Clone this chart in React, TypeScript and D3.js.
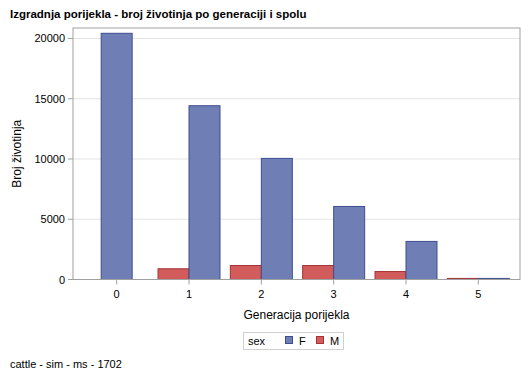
import React from "react";
import * as d3 from "d3";

const categories = ["0", "1", "2", "3", "4", "5"];
const seriesKeys = ["M", "F"];
const valuesF = [20430, 14420, 10050, 6060, 3160, 90];
const valuesM: (number | null)[] = [null, 890, 1160, 1160, 660, 90];
const yTicks = [0, 5000, 10000, 15000, 20000];
const legendKeys = ["F", "M"];

const colors: Record<string, { fill: string; stroke: string }> = {
  F: { fill: "#6F7EB4", stroke: "#3D4E8F" },
  M: { fill: "#D25B5B", stroke: "#A33434" },
};

const W = 529;
const H = 378;
const plot = { left: 73, right: 520, top: 28, bottom: 279.5 };
const font = "Arial, 'Liberation Sans', sans-serif";

export default function App() {
  const x = d3.scaleBand<string>().domain(categories).range([80.5, 514.5]).padding(0);
  const y = d3.scaleLinear().domain([0, 20870]).range([plot.bottom, plot.top]);
  const barW = 31;

  const bars: { key: string; cat: string; x0: number; v: number }[] = [];
  categories.forEach((c, i) => {
    const vals: Record<string, number | null> = { M: valuesM[i], F: valuesF[i] };
    const present = seriesKeys.filter((k) => vals[k] != null);
    const inner = d3
      .scaleBand<string>()
      .domain(present)
      .range([-(barW * present.length) / 2, (barW * present.length) / 2]);
    const cx = (x(c) as number) + x.bandwidth() / 2;
    present.forEach((k) => {
      bars.push({ key: k, cat: c, x0: cx + (inner(k) as number), v: vals[k] as number });
    });
  });

  return (
    <svg width={W} height={H} style={{ position: "absolute", left: 0, top: 0, background: "#fff" }}>
      <rect x={0} y={0} width={W} height={H} fill="#fff" />
      <text x={10} y={18} fontFamily={font} fontSize={11.5} fontWeight="bold" fill="#000">
        Izgradnja porijekla - broj životinja po generaciji i spolu
      </text>
      {yTicks.map((t) => (
        <line key={"g" + t} x1={plot.left} x2={plot.right} y1={y(t)} y2={y(t)} stroke="#E4E4E4" strokeWidth={1} />
      ))}
      {bars.map((b, i) => (
        <rect
          key={i}
          x={b.x0}
          y={y(b.v)}
          width={barW}
          height={Math.max(0, plot.bottom - y(b.v))}
          fill={colors[b.key].fill}
          stroke={colors[b.key].stroke}
          strokeWidth={1}
        />
      ))}
      <rect
        x={plot.left}
        y={plot.top}
        width={plot.right - plot.left}
        height={plot.bottom - plot.top}
        fill="none"
        stroke="#A0A0A0"
        strokeWidth={1}
      />
      {yTicks.map((t) => (
        <g key={"t" + t}>
          <line x1={plot.left - 5} x2={plot.left} y1={y(t)} y2={y(t)} stroke="#A0A0A0" />
          <text x={plot.left - 8} y={y(t) + 4} textAnchor="end" fontFamily={font} fontSize={11} fill="#000">
            {t}
          </text>
        </g>
      ))}
      {categories.map((c) => {
        const cx = (x(c) as number) + x.bandwidth() / 2;
        return (
          <g key={"x" + c}>
            <line x1={cx} x2={cx} y1={plot.bottom} y2={plot.bottom + 5} stroke="#A0A0A0" />
            <text x={cx} y={plot.bottom + 18} textAnchor="middle" fontFamily={font} fontSize={11} fill="#000">
              {c}
            </text>
          </g>
        );
      })}
      <text
        transform={`translate(21,${(plot.top + plot.bottom) / 2}) rotate(-90)`}
        textAnchor="middle"
        fontFamily={font}
        fontSize={12}
        fill="#000"
      >
        Broj životinja
      </text>
      <text x={(plot.left + plot.right) / 2} y={319} textAnchor="middle" fontFamily={font} fontSize={12} fill="#000">
        Generacija porijekla
      </text>
      <rect x={243.5} y={332.5} width={100} height={17} fill="#fff" stroke="#D0D0D0" />
      <text x={248} y={345} fontFamily={font} fontSize={11} fill="#000">
        sex
      </text>
      {legendKeys.map((k, i) => (
        <g key={"l" + k}>
          <rect
            x={285.5 + i * 31}
            y={336.5}
            width={7}
            height={7}
            fill={colors[k].fill}
            stroke={colors[k].stroke}
          />
          <text x={299 + i * 31} y={345} fontFamily={font} fontSize={11} fill="#000">
            {k}
          </text>
        </g>
      ))}
      <text x={10} y={368} fontFamily={font} fontSize={11} fill="#000">
        cattle - sim - ms - 1702
      </text>
    </svg>
  );
}
